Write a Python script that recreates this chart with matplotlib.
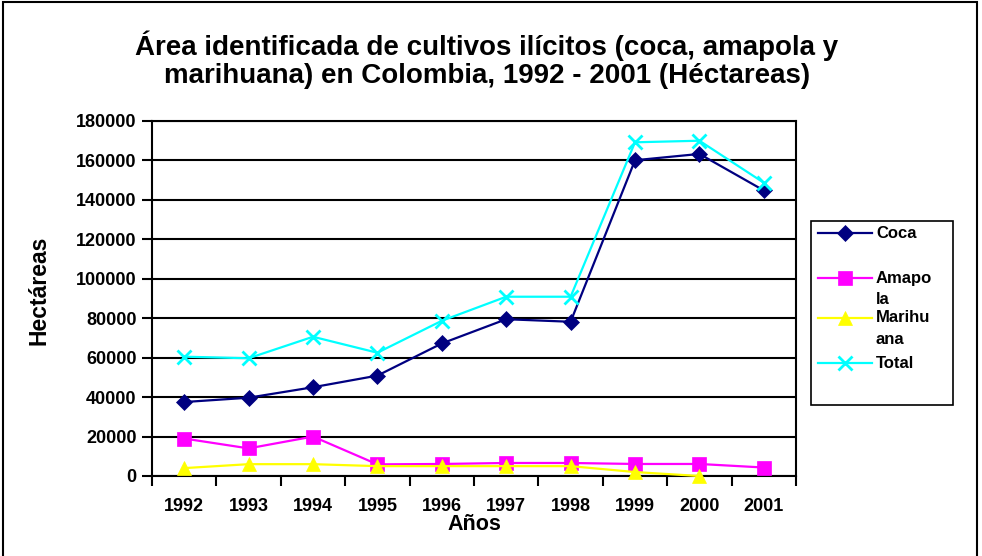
import numpy as np
import matplotlib
matplotlib.use("Agg")
import matplotlib.pyplot as plt
from matplotlib.lines import Line2D
from matplotlib.patches import Rectangle

years = ["1992", "1993", "1994", "1995", "1996", "1997", "1998", "1999", "2000", "2001"]
coca = [37500, 39700, 45000, 50900, 67200, 79500, 78200, 160100, 163300, 144800]
amapola = [19000, 14000, 20000, 5900, 6100, 6600, 6600, 6100, 6100, 4300]
marihuana = [4000, 6000, 6000, 5000, 5000, 5000, 5000, 2000, 0, np.nan]
total = [60500, 59700, 70600, 62500, 78700, 90900, 90900, 169200, 170000, 148700]

series_names = ["Coca", "Amapo\nla", "Marihu\nana", "Total"]
series_vals = [coca, amapola, marihuana, total]
colors = ["#000080", "#FF00FF", "#FFFF00", "#00FFFF"]
markers = ["D", "s", "^", "x"]
msizes = [8.5, 10, 10, 10]

title = "Área identificada de cultivos ilícitos (coca, amapola y\nmarihuana) en Colombia, 1992 - 2001 (Héctareas)"
yticks = np.arange(0, 180001, 20000)

plt.rcParams['font.family'] = ['Liberation Sans', 'DejaVu Sans']
plt.rcParams['font.weight'] = 'bold'

W, H = 982, 556
fig = plt.figure(figsize=(W / 100, H / 100), dpi=100)
ax = fig.add_axes([152 / W, 1 - 476 / H, (796 - 152) / W, (476 - 121) / H])

x = np.arange(len(years))
for vals, c, m, ms in zip(series_vals, colors, markers, msizes):
    ax.plot(x, vals, color=c, lw=1.6, marker=m, markersize=ms,
            markeredgewidth=(2.0 if m == 'x' else 0.5), markeredgecolor=c, zorder=3,
            clip_on=False)

ax.set_xlim(-0.5, len(years) - 0.5)
ax.set_ylim(0, 180000)
ax.set_yticks(yticks)
ax.set_yticklabels([str(v) for v in yticks], fontsize=13, fontweight='bold')
ax.set_xticks(x)
ax.set_xticklabels(years, fontsize=13, fontweight='bold')
ax.set_xticks(np.arange(-0.5, len(years)), minor=True)
ax.tick_params(axis='x', which='major', length=0, pad=16)
ax.tick_params(axis='x', which='minor', length=7, width=1.5, direction='out')
ax.tick_params(axis='y', which='major', length=7, width=1.5, direction='out', pad=4)
ax.yaxis.grid(True, color='black', lw=1.5)
ax.set_axisbelow(True)
for s in ax.spines.values():
    s.set_linewidth(1.5)
    s.set_color('black')

ax.set_xlabel("Años", fontsize=15.5, fontweight='bold', va='center')
ax.xaxis.set_label_coords(0.5, (476 - 524) / 355)
ax.set_ylabel("Hectáreas", fontsize=16.5, fontweight='bold', va='center')
ax.yaxis.set_label_coords((39 - 152) / 644, (476 - 290) / 355)

fig.text(487 / W, 1 - 60 / H, title, ha='center', va='center', fontsize=20,
         fontweight='bold', linespacing=1.12)

# outer border
fig.add_artist(Rectangle((3 / W, -0.05), (977 - 3) / W, 1.05 - 2 / H,
                         transform=fig.transFigure, fill=False, ec='black', lw=1.5))

# legend
fig.add_artist(Rectangle((811 / W, 1 - 405 / H), (953 - 811) / W, (405 - 221) / H,
                         transform=fig.transFigure, fill=False, ec='black', lw=1.2))
rows = [233, 278, 318, 363]
for name, c, m, ms, yy in zip(series_names, colors, markers, msizes, rows):
    yf = 1 - yy / H
    fig.add_artist(Line2D([818 / W, 872 / W], [yf, yf], transform=fig.transFigure,
                          color=c, lw=1.6))
    fig.add_artist(Line2D([845 / W], [yf], transform=fig.transFigure, color=c,
                          marker=m, markersize=ms, markeredgecolor=c,
                          markeredgewidth=(2.0 if m == 'x' else 0.5)))
    for i, ln in enumerate(name.split("\n")):
        fig.text(876 / W, 1 - (yy + 22 * i) / H, ln, ha='left', va='center',
                 fontsize=12, fontweight='bold')

fig.savefig("out.png", dpi=100)
